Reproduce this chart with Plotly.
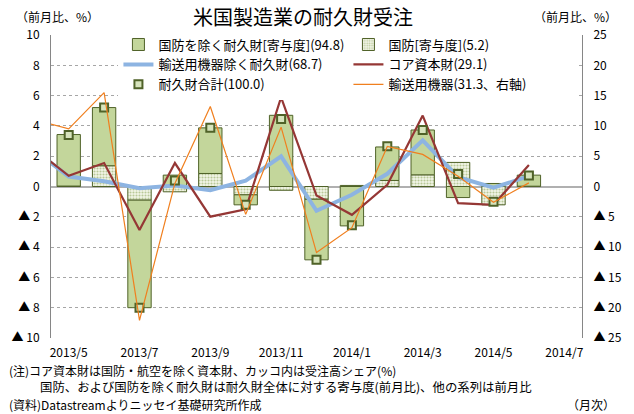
import plotly.graph_objects as go

# ---- data ----
months = ["2013/4", "2013/5", "2013/6", "2013/7", "2013/8", "2013/9", "2013/10", "2013/11",
          "2013/12", "2014/1", "2014/2", "2014/3", "2014/4", "2014/5", "2014/6", "2014/7"]
tick_months = ["2013/5", "2013/7", "2013/9", "2013/11", "2014/1", "2014/3", "2014/5", "2014/7"]

defense = [None, 0.03, 1.37, -0.90, -0.35, 0.86, -0.55, -0.25, -0.84, 0.07, 0.40, 0.77, 1.59, -1.21, 0.02, None]
ex_defense = [None, 3.40, 3.84, -7.10, 0.75, 3.01, -0.66, 4.70, -4.00, -2.60, 2.21, 2.96, -0.73, 0.20, 0.73, None]
total = [None, 3.40, 5.21, -8.00, 0.40, 3.87, -1.21, 4.45, -4.83, -2.55, 2.65, 3.73, 0.82, -1.00, 0.73, None]
ex_transport = [2.44, 0.66, 0.35, -0.12, 0.07, -0.24, 0.38, 1.99, -1.60, -0.55, 0.84, 3.05, 0.62, -0.08, 0.68, None]
core_capital = [2.55, 0.71, 1.55, -2.87, 1.55, -1.99, -1.50, 5.89, -0.60, -1.87, 0.11, 4.68, -1.10, -1.21, 1.42, None]
transport = [11.1, 9.5, 15.5, -22.1, 0.5, 13.2, -4.6, 9.8, -10.9, -6.8, 6.6, 5.3, 1.7, -2.6, 0.6, None]

left_vals = [10, 8, 6, 4, 2, 0, -2, -4, -6, -8, -10]
left_text = ["10", "8", "6", "4", "2", "0", "▲ 2", "▲ 4", "▲ 6", "▲ 8", "▲ 10"]
right_vals = [25, 20, 15, 10, 5, 0, -5, -10, -15, -20, -25]
right_text = ["25", "20", "15", "10", "5", "0", "▲ 5", "▲ 10", "▲ 15", "▲ 20", "▲ 25"]
boundary_ticks = [2.5, 4.5, 6.5, 8.5, 10.5, 12.5, 14.5]

FONT = "Noto Sans CJK JP"
BAR_FILL = "#C3D69B"
BAR_LINE = "#4F6228"

fig = go.Figure()

# defense first so it stacks nearest to zero
fig.add_trace(go.Bar(
    x=months, y=defense, name="国防[寄与度](5.2)", legendrank=2,
    width=0.66,
    marker=dict(color="#F8FAF2", line=dict(color=BAR_LINE, width=1),
                pattern=dict(shape=".", fgcolor="#7F9A48", bgcolor="#F2F6E8", size=3, solidity=0.4)),
))
fig.add_trace(go.Bar(
    x=months, y=ex_defense, name="国防を除く耐久財[寄与度](94.8)", legendrank=1,
    width=0.66,
    marker=dict(color=BAR_FILL, line=dict(color=BAR_LINE, width=1)),
))
fig.add_trace(go.Scatter(
    x=months, y=ex_transport, name="輸送用機器除く耐久財(68.7)", legendrank=3,
    mode="lines", line=dict(color="#8DB4E2", width=4),
))
fig.add_trace(go.Scatter(
    x=months, y=core_capital, name="コア資本財(29.1)", legendrank=4,
    mode="lines", line=dict(color="#953735", width=2.2),
))
fig.add_trace(go.Scatter(
    x=months, y=total, name="耐久財合計(100.0)", legendrank=5,
    mode="markers", marker=dict(symbol="square", size=8, color="#D7E4BD",
                                line=dict(color=BAR_LINE, width=2)),
))
fig.add_trace(go.Scatter(
    x=months, y=transport, name="輸送用機器(31.3、右軸)", legendrank=6,
    mode="lines", line=dict(color="#F07F1E", width=1.2), yaxis="y2",
))

fig.update_layout(
    width=634, height=414,
    margin=dict(l=50, r=40, t=35, b=76),
    paper_bgcolor="white", plot_bgcolor="white",
    font=dict(family=FONT, size=12, color="#000000"),
    barmode="relative", bargap=0.34,
    showlegend=True,
    legend=dict(orientation="h", x=0.127, xanchor="left", y=1.018, yanchor="top",
                bgcolor="white", font=dict(size=13, family=FONT),
                entrywidth=185, entrywidthmode="pixels", tracegroupgap=0,
                itemwidth=30),
    xaxis=dict(type="category", categoryorder="array", categoryarray=months,
               range=[0.5, 15.5], tickmode="array", tickvals=tick_months, ticktext=tick_months,
               showgrid=False, showline=False, zeroline=False, ticks="",
               ticklabelstandoff=6, tickfont=dict(size=12, family=FONT)),
    xaxis3=dict(overlaying="x", anchor="free", position=0.5017, range=[0.5, 15.5],
                tickmode="array", tickvals=boundary_ticks, ticks="outside", ticklen=4,
                tickcolor="#A0A0A0", showticklabels=False, showgrid=False,
                showline=False, zeroline=False),
    yaxis=dict(range=[-10, 10], tickmode="array", tickvals=left_vals, ticktext=left_text,
               showgrid=True, gridcolor="#A6A6A6", griddash="dot", gridwidth=1,
               zeroline=True, zerolinecolor="#B0B0B0", zerolinewidth=2,
               showline=True, linecolor="#868686", linewidth=1, ticks="",
               ticklabelstandoff=8, tickfont=dict(size=12, family=FONT)),
    yaxis2=dict(range=[-25, 25], overlaying="y", side="right", tickmode="array",
                tickvals=right_vals, ticktext=right_text, showgrid=False, zeroline=False,
                showline=True, linecolor="#868686", linewidth=1, ticks="",
                ticklabelstandoff=8, tickfont=dict(size=12, family=FONT)),
)

W, L, H, B = 544.0, 50.0, 303.0, 338.0
def px(x):
    return (x - L) / W
def py(y):
    return (B - y) / H

annos = [
    dict(text="米国製造業の耐久財受注", x=px(308), y=py(17), xanchor="center", yanchor="middle",
         font=dict(size=20)),
    dict(text="（前月比、%）", x=px(12), y=py(17), xanchor="left", yanchor="middle", font=dict(size=12)),
    dict(text="（前月比、%）", x=px(632), y=py(17), xanchor="right", yanchor="middle", font=dict(size=12)),
    dict(text="(注)コア資本財は国防・航空を除く資本財、カッコ内は受注高シェア(%)", x=px(5), y=py(370),
         xanchor="left", yanchor="middle", font=dict(size=12)),
    dict(text="国防、および国防を除く耐久財は耐久財全体に対する寄与度(前月比)、他の系列は前月比", x=px(37), y=py(387),
         xanchor="left", yanchor="middle", font=dict(size=12.4)),
    dict(text="(資料)Datastreamよりニッセイ基礎研究所作成", x=px(5), y=py(404),
         xanchor="left", yanchor="middle", font=dict(size=12)),
    dict(text="（月次）", x=px(630), y=py(404), xanchor="right", yanchor="middle", font=dict(size=12)),
]
for a in annos:
    a.update(xref="paper", yref="paper", showarrow=False)
    fig.add_annotation(**a)

fig.write_html("out.html", config={"displayModeBar": False},
               post_script="document.body.style.margin='0';document.body.style.padding='0';"
                           "document.body.style.overflow='hidden';")
